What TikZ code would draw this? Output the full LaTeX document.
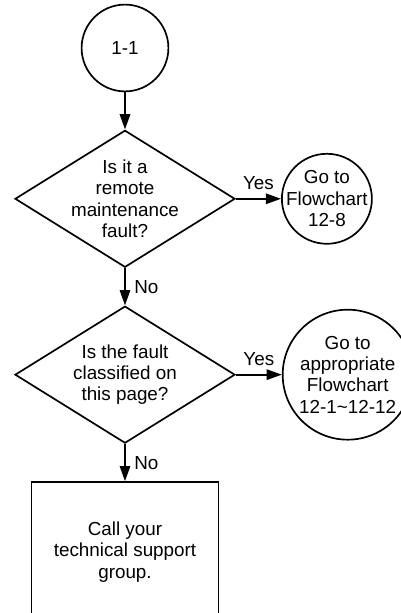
\documentclass[tikz,border=0pt]{standalone}
\usepackage{fontspec}
\setmainfont{Liberation Sans}
\usetikzlibrary{arrows.meta,positioning,shapes.geometric}

\begin{document}
\begin{tikzpicture}[
  node distance=0.93cm,
  every node/.style={font=\fontsize{13.4}{15.2}\selectfont},
  term/.style={draw, circle, line width=1.2pt, align=center, inner sep=-6pt},
  query/.style={draw, diamond, aspect=1.6, line width=1.2pt, align=center,
    inner sep=-0.2cm, minimum width=5.5cm, minimum height=3.425cm},
  box/.style={draw, rectangle, line width=1.2pt, align=center,
    minimum width=4.675cm, minimum height=3.5cm},
  tag/.style={inner sep=6pt},
  flow/.style={-{Triangle[length=0.38cm, width=0.26cm]}, line width=1.2pt}
]
\useasboundingbox (-3.125,1.2) rectangle (6.9,-14.125);
\clip (-3.125,1.2) rectangle (6.9,-14.125);
\node[term, minimum size=2.17cm] (start) at (0,0) {1-1};
\node[query, below=of start] (remote) {Is it a\\remote\\maintenance\\fault?};
\node[term, minimum size=2.25cm, right=1.13cm of remote] (goto8) {Go to\\Flowchart\\12-8};
\node[query, below=of remote] (classified) {Is the fault\\classified on\\this page?};
\node[term, minimum size=3.25cm, right=1.15cm of classified] (gotoall) {Go to\\appropriate\\Flowchart\\12-1\textasciitilde12-12};
\node[box, below=of classified] (support) {Call your\\technical support\\group.};
\draw[flow] (start) -- (remote);
\draw[flow] (remote) -- node[tag, above] {Yes} (goto8);
\draw[flow] (remote) -- node[tag, right] {No} (classified);
\draw[flow] (classified) -- node[tag, above] {Yes} (gotoall);
\draw[flow] (classified) -- node[tag, right] {No} (support);
\end{tikzpicture}
\end{document}
